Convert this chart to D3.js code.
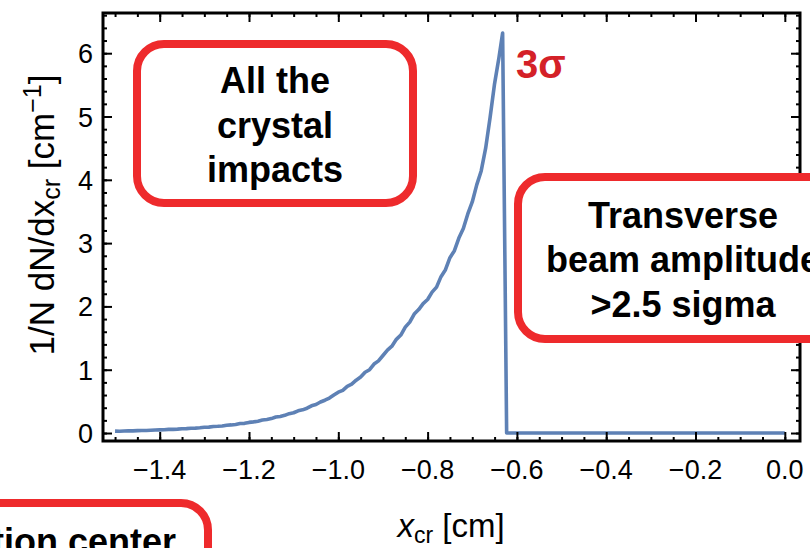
<!DOCTYPE html>
<html>
<head>
<meta charset="utf-8">
<script src="https://cdn.jsdelivr.net/npm/d3@7"></script>
<style>
  body { margin: 0; background: #fff; }
  svg { display: block; font-family: "Liberation Sans", Arial, sans-serif; }
</style>
</head>
<body>
<script>
// histogram of crystal impacts, bins of 0.01 cm starting at -1.50
var binStart = -1.50, binWidth = 0.01;
var density = [
  0.030, 0.029, 0.033, 0.035, 0.034, 0.038, 0.041, 0.040, 0.045, 0.048,
  0.050, 0.052, 0.058, 0.057, 0.061, 0.068, 0.069, 0.076, 0.078, 0.083,
  0.090, 0.093, 0.103, 0.106, 0.112, 0.124, 0.128, 0.135, 0.150, 0.153,
  0.168, 0.176, 0.186, 0.205, 0.214, 0.228, 0.252, 0.262, 0.279, 0.306,
  0.320, 0.350, 0.366, 0.392, 0.430, 0.450, 0.490, 0.518, 0.552, 0.600,
  0.645, 0.675, 0.738, 0.772, 0.835, 0.884, 0.960, 1.000, 1.090, 1.140,
  1.225, 1.310, 1.372, 1.480, 1.548, 1.672, 1.752, 1.880, 1.950, 2.045,
  2.110, 2.225, 2.305, 2.470, 2.580, 2.770, 2.880, 3.080, 3.230, 3.460,
  3.650, 3.920, 4.140, 4.500, 4.990, 5.520, 5.940
];
// peak at the 3 sigma cut, then nothing beyond it
var tailX = [-0.632, -0.623, 0.0];
var tailY = [6.32, 0.0, 0.0];

var xTicks = [-1.4, -1.2, -1.0, -0.8, -0.6, -0.4, -0.2, 0.0];
var yTicks = [0, 1, 2, 3, 4, 5, 6];

var boxes = [
  { lines: ["All the", "crystal", "impacts"] },
  { lines: ["Transverse", "beam amplitude", ">2.5 sigma"] },
  { lines: ["distribution center"] }
];

function draw() {
  var width = 810, height = 548;
  var frame = { left: 103, right: 800, top: 13, bottom: 441 };

  var svg = d3.select("body").append("svg")
    .attr("width", width)
    .attr("height", height);

  var x = d3.scaleLinear().domain([-1.527, 0.034]).range([frame.left, frame.right]);
  var y = d3.scaleLinear().domain([-0.126, 6.635]).range([frame.bottom, frame.top]);

  var points = density.map(function(d, i) { return [binStart + i * binWidth, d]; });
  tailX.forEach(function(v, i) { points.push([v, tailY[i]]); });

  // curve
  svg.append("path")
    .datum(points)
    .attr("fill", "none")
    .attr("stroke", "#5E81B5")
    .attr("stroke-width", 3.6)
    .attr("stroke-linejoin", "round")
    .attr("d", d3.line().x(d => x(d[0])).y(d => y(d[1])));

  // frame with inward ticks on all sides
  var xMinor = d3.range(-1.5, 0.03, 0.05);
  var yMinor = d3.range(0, 6.7, 0.2);

  function frameAxis(axis, transform) {
    svg.append("g").attr("transform", transform).call(axis)
      .call(g => g.select(".domain").remove())
      .call(g => g.selectAll("line").attr("stroke", "#000").attr("stroke-width", 2));
  }
  var b = "translate(0," + frame.bottom + ")", t = "translate(0," + frame.top + ")";
  var l = "translate(" + frame.left + ",0)", r = "translate(" + frame.right + ",0)";
  frameAxis(d3.axisBottom(x).tickValues(xMinor).tickSize(-4).tickFormat(""), b);
  frameAxis(d3.axisBottom(x).tickValues(xTicks).tickSize(-9).tickFormat(""), b);
  frameAxis(d3.axisTop(x).tickValues(xMinor).tickSize(-4).tickFormat(""), t);
  frameAxis(d3.axisTop(x).tickValues(xTicks).tickSize(-9).tickFormat(""), t);
  frameAxis(d3.axisLeft(y).tickValues(yMinor).tickSize(-4).tickFormat(""), l);
  frameAxis(d3.axisLeft(y).tickValues(yTicks).tickSize(-9).tickFormat(""), l);
  frameAxis(d3.axisRight(y).tickValues(yMinor).tickSize(-4).tickFormat(""), r);
  frameAxis(d3.axisRight(y).tickValues(yTicks).tickSize(-9).tickFormat(""), r);

  svg.append("rect")
    .attr("x", frame.left).attr("y", frame.top)
    .attr("width", frame.right - frame.left).attr("height", frame.bottom - frame.top)
    .attr("fill", "none").attr("stroke", "#000").attr("stroke-width", 3);

  // tick labels
  svg.append("g").selectAll("text")
    .data(xTicks).enter().append("text")
    .attr("x", d => x(d)).attr("y", 479)
    .attr("text-anchor", "middle")
    .attr("font-size", 27)
    .text(d3.format(".1f"));

  svg.append("g").selectAll("text")
    .data(yTicks).enter().append("text")
    .attr("x", 93).attr("y", d => y(d) + 10)
    .attr("text-anchor", "end")
    .attr("font-size", 27)
    .text(d => d);

  // axis titles
  var xt = svg.append("text")
    .attr("x", 451).attr("y", 537)
    .attr("text-anchor", "middle")
    .attr("font-size", 33);
  xt.append("tspan").attr("font-style", "italic").text("x");
  xt.append("tspan").attr("font-size", 23).attr("dy", 6).text("cr");
  xt.append("tspan").attr("dy", -6).text(" [cm]");

  var yt = svg.append("text")
    .attr("transform", "translate(54,215) rotate(-90)")
    .attr("text-anchor", "middle")
    .attr("font-size", 35);
  yt.append("tspan").text("1/N dN/dx");
  yt.append("tspan").attr("font-size", 25).attr("dy", 6).text("cr");
  yt.append("tspan").attr("dy", -6).text(" [cm");
  yt.append("tspan").attr("font-size", 25).attr("dy", -13).text("\u22121");
  yt.append("tspan").attr("dy", 13).text("]");

  // 3 sigma marker
  svg.append("text")
    .attr("x", 516).attr("y", 78)
    .attr("font-size", 40).attr("font-weight", "bold")
    .attr("fill", "#D42128")
    .text("3\u03C3");

  // annotation boxes
  var boxGeom = [
    { x: 137, y: 44, w: 276, h: 159, cx: 275, base: [93, 138, 182], anchor: "middle" },
    { x: 518, y: 177, w: 420, h: 162, cx: 683, base: [228, 272, 317], anchor: "middle" },
    { x: -200, y: 503, w: 408, h: 120, cx: 176, base: [554], anchor: "end" }
  ];

  boxes.forEach(function(bx, i) {
    var g = boxGeom[i];
    svg.append("rect")
      .attr("x", g.x).attr("y", g.y)
      .attr("width", g.w).attr("height", g.h)
      .attr("rx", 27).attr("ry", 27)
      .attr("fill", "#fff")
      .attr("stroke", "#EE2A2C").attr("stroke-width", 8);
    svg.append("g").selectAll("text")
      .data(bx.lines).enter().append("text")
      .attr("x", g.cx).attr("y", (d, j) => g.base[j])
      .attr("text-anchor", g.anchor)
      .attr("font-size", 36).attr("font-weight", "bold")
      .text(d => d);
  });
}

draw();
</script>
</body>
</html>
